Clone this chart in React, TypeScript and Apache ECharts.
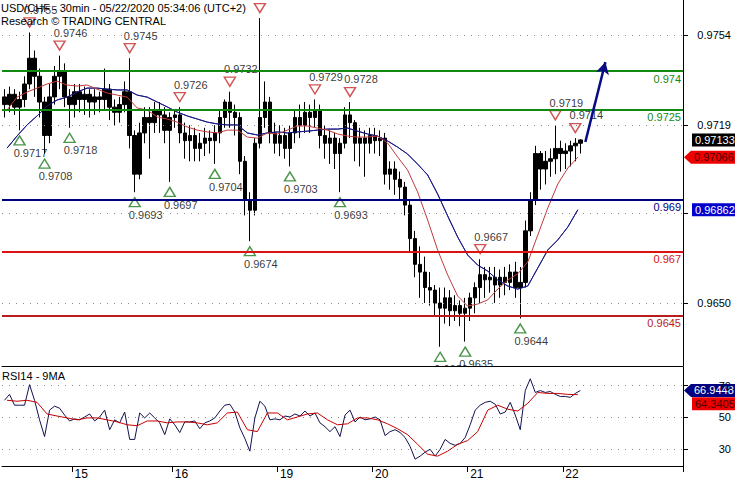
import React, { useEffect, useRef } from 'react';
import * as echarts from 'echarts';

// ---------- data ----------
const dayLabels = ['15', '16', '19', '20', '21', '22'];
const dayStartIndex = [14, 34, 55, 74, 93, 112];
const slotCount = 136; // 30-min slots visible (incl. empty future space)

const opens = [
  0.9730, 0.9727, 0.9731, 0.9726, 0.9729, 0.9735, 0.9745, 0.9738, 0.9728, 0.9715,
  0.9730, 0.9738, 0.9740, 0.9730, 0.9727, 0.9732, 0.9729, 0.9731, 0.9728, 0.9730,
  0.9729, 0.9733, 0.9726, 0.9724, 0.9727, 0.9732, 0.9715, 0.9700, 0.9716, 0.9722,
  0.9720, 0.9725, 0.9723, 0.9717, 0.9722, 0.9723, 0.9716, 0.9713, 0.9715, 0.9710,
  0.9712, 0.9714, 0.9713, 0.9716, 0.9722, 0.9728, 0.9724, 0.9722, 0.9705, 0.9690,
  0.9686, 0.9712, 0.9722, 0.9728, 0.9716, 0.9712, 0.9715, 0.9710, 0.9716, 0.9722,
  0.9719, 0.9724, 0.9722, 0.9725, 0.9715, 0.9712, 0.9714, 0.9708, 0.9712, 0.9723,
  0.9720, 0.9712, 0.9714, 0.9712, 0.9715, 0.9713, 0.9714, 0.9700, 0.9702, 0.9698,
  0.9695, 0.9688, 0.9675, 0.9665, 0.9662, 0.9656, 0.9655, 0.9650, 0.9648, 0.9652,
  0.9647, 0.9649, 0.9646, 0.9648, 0.9652, 0.9656, 0.9661, 0.9659, 0.9660, 0.9657,
  0.9660, 0.9658, 0.9662, 0.9656, 0.9658, 0.9678, 0.9690, 0.9708, 0.9702, 0.9705,
  0.9706, 0.9710, 0.9708, 0.9709, 0.9711, 0.9712,
];
const closes = [
  0.9727, 0.9731, 0.9726, 0.9729, 0.9735, 0.9745, 0.9738, 0.9728, 0.9715, 0.9730,
  0.9738, 0.9740, 0.9730, 0.9727, 0.9732, 0.9729, 0.9731, 0.9728, 0.9730, 0.9729,
  0.9733, 0.9726, 0.9724, 0.9727, 0.9732, 0.9715, 0.9700, 0.9716, 0.9722, 0.9720,
  0.9725, 0.9723, 0.9717, 0.9722, 0.9723, 0.9716, 0.9713, 0.9715, 0.9710, 0.9712,
  0.9714, 0.9713, 0.9716, 0.9722, 0.9728, 0.9724, 0.9722, 0.9705, 0.9690, 0.9686,
  0.9712, 0.9722, 0.9728, 0.9716, 0.9712, 0.9715, 0.9710, 0.9716, 0.9722, 0.9719,
  0.9724, 0.9722, 0.9725, 0.9715, 0.9712, 0.9714, 0.9708, 0.9712, 0.9723, 0.9720,
  0.9712, 0.9714, 0.9712, 0.9715, 0.9713, 0.9714, 0.9700, 0.9702, 0.9698, 0.9695,
  0.9688, 0.9675, 0.9665, 0.9662, 0.9656, 0.9655, 0.9650, 0.9648, 0.9652, 0.9647,
  0.9649, 0.9646, 0.9648, 0.9652, 0.9656, 0.9661, 0.9659, 0.9660, 0.9657, 0.9660,
  0.9658, 0.9662, 0.9656, 0.9658, 0.9678, 0.9690, 0.9708, 0.9702, 0.9705, 0.9706,
  0.9710, 0.9708, 0.9709, 0.9711, 0.9712, 0.97133,
];
const lows = [
  0.9722, 0.9724, 0.9723, 0.9717, 0.9726, 0.9733, 0.9730, 0.9722, 0.9708, 0.9712,
  0.9727, 0.9733, 0.9726, 0.9718, 0.9722, 0.9724, 0.9723, 0.9722, 0.9723, 0.9724,
  0.9725, 0.9721, 0.9719, 0.9720, 0.9724, 0.9710, 0.9693, 0.9698, 0.9712, 0.9706,
  0.9716, 0.9716, 0.9712, 0.9697, 0.9718, 0.9712, 0.9706, 0.9705, 0.9705, 0.9705,
  0.9707, 0.9708, 0.9704, 0.9712, 0.9718, 0.9718, 0.9715, 0.9700, 0.9684, 0.9674,
  0.9684, 0.9710, 0.9718, 0.9712, 0.9708, 0.9707, 0.9706, 0.9703, 0.9712, 0.9714,
  0.9716, 0.9716, 0.9718, 0.9710, 0.9706, 0.9704, 0.9702, 0.9693, 0.9710, 0.9714,
  0.9705, 0.9703, 0.9699, 0.9708, 0.9708, 0.9707, 0.9696, 0.9694, 0.9692, 0.9690,
  0.9684, 0.9670, 0.9660, 0.9652, 0.9650, 0.9649, 0.9645, 0.9633, 0.9642, 0.9641,
  0.9643, 0.9641, 0.9635, 0.9643, 0.9646, 0.9650, 0.9652, 0.9654, 0.9650, 0.9652,
  0.9653, 0.9655, 0.9652, 0.9644, 0.9656, 0.9676, 0.9688, 0.9694, 0.9696, 0.9699,
  0.9700, 0.9701, 0.9702, 0.9703, 0.9705, 0.9708,
];
const highs = [
  0.9733, 0.9734, 0.9733, 0.9732, 0.9738, 0.9755, 0.9748, 0.9741, 0.9730, 0.9735,
  0.9742, 0.9746, 0.9743, 0.9733, 0.9735, 0.9735, 0.9734, 0.9733, 0.9733, 0.9732,
  0.9741, 0.9735, 0.9729, 0.9730, 0.9736, 0.9745, 0.9717, 0.9720, 0.9726, 0.9726,
  0.9728, 0.9728, 0.9726, 0.9724, 0.9725, 0.9726, 0.9720, 0.9719, 0.9718, 0.9716,
  0.9718, 0.9717, 0.9719, 0.9725, 0.9729, 0.9732, 0.9727, 0.9724, 0.9707, 0.9693,
  0.9714, 0.97606, 0.9736, 0.9730, 0.9720, 0.9719, 0.9718, 0.9719, 0.9725, 0.9727,
  0.9728, 0.9727, 0.9729, 0.9727, 0.9719, 0.9717, 0.9716, 0.9714, 0.9726, 0.9728,
  0.9721, 0.9718, 0.9717, 0.9718, 0.9718, 0.9717, 0.9716, 0.9705, 0.9705, 0.9701,
  0.9697, 0.9690, 0.9678, 0.9672, 0.9668, 0.9662, 0.9657, 0.9656, 0.9656, 0.9655,
  0.9653, 0.9651, 0.9652, 0.9654, 0.9658, 0.9667, 0.9664, 0.9664, 0.9664, 0.9663,
  0.9664, 0.9665, 0.9666, 0.9664, 0.9682, 0.9693, 0.9711, 0.9709, 0.9709, 0.9710,
  0.9719, 0.9713, 0.9712, 0.9713, 0.9714, 0.97135,
];

// moving averages, read every second slot (hourly)
const maFast = [
  0.97249, 0.97299, 0.97319, 0.97334, 0.97350, 0.97361, 0.97346, 0.97342, 0.97346, 0.97330,
  0.97315, 0.97307, 0.97299, 0.97257, 0.97249, 0.97222, 0.97214, 0.97202, 0.97183, 0.97171,
  0.97164, 0.97160, 0.97171, 0.97171, 0.97144, 0.97140, 0.97160, 0.97156, 0.97171, 0.97187,
  0.97187, 0.97179, 0.97171, 0.97156, 0.97148, 0.97144, 0.97144, 0.97148, 0.97121, 0.97067,
  0.97016, 0.96931, 0.96822, 0.96706, 0.96609, 0.96527, 0.96488, 0.96496, 0.96512, 0.96554,
  0.96589, 0.96613, 0.96659, 0.96764, 0.96869, 0.96962, 0.97024, 0.97066,
];
const maSlow = [
  0.97101, 0.97148, 0.97191, 0.97226, 0.97264, 0.97288, 0.97299, 0.97319, 0.97334, 0.97334,
  0.97330, 0.97327, 0.97327, 0.97307, 0.97299, 0.97280, 0.97261, 0.97241, 0.97226, 0.97214,
  0.97202, 0.97195, 0.97191, 0.97191, 0.97160, 0.97152, 0.97160, 0.97164, 0.97160, 0.97164,
  0.97167, 0.97171, 0.97175, 0.97175, 0.97179, 0.97167, 0.97156, 0.97148, 0.97129, 0.97105,
  0.97078, 0.97039, 0.96997, 0.96923, 0.96838, 0.96756, 0.96686, 0.96647, 0.96624, 0.96589,
  0.96566, 0.96554, 0.96566, 0.96636, 0.96706, 0.96745, 0.96795, 0.96862,
];

const rsi = [
  60.8, 64.5, 57.7, 57.7, 57.7, 70.6, 60.8, 48.5, 38.0, 54.6,
  57.1, 55.8, 51.5, 47.8, 49.1, 48.5, 50.3, 52.2, 47.8, 50.3,
  54.6, 42.3, 48.5, 46.6, 53.4, 36.2, 36.2, 52.8, 49.7, 52.8,
  49.7, 46.6, 39.2, 49.1, 45.4, 40.5, 47.2, 47.2, 47.8, 42.9,
  46.6, 47.8, 49.7, 54.0, 57.7, 58.3, 53.4, 43.5, 36.8, 28.8,
  49.7, 60.2, 57.1, 48.5, 49.1, 48.5, 50.9, 50.3, 52.2, 50.9,
  54.0, 50.9, 52.8, 46.6, 44.2, 41.1, 44.2, 38.0, 51.5, 54.6,
  47.2, 50.3, 48.5, 49.1, 50.3, 48.5, 38.6, 41.1, 42.3, 40.5,
  37.4, 31.8, 23.8, 25.7, 28.2, 30.0, 25.7, 30.0, 36.2, 33.7,
  32.5, 33.7, 37.4, 45.4, 54.6, 57.7, 59.5, 60.2, 58.3, 52.2,
  53.4, 59.5, 51.5, 42.3, 66.9, 74.3, 65.7, 66.9, 65.7, 66.3,
  64.5, 63.2, 63.2, 62.6, 65.1, 66.9448,
];
const rsiMa = [
  60.8, 60.2, 60.8, 59.5, 52.2, 50.9, 49.7, 48.5, 49.7, 49.7,
  48.5, 47.2, 45.4, 44.8, 47.8, 47.8, 46.6, 47.2, 47.2, 46.6,
  45.4, 46.6, 52.8, 53.4, 42.3, 41.1, 52.8, 52.8, 48.5, 50.3,
  52.2, 52.8, 48.5, 45.4, 46.0, 49.7, 49.7, 48.5, 46.0, 42.9,
  39.2, 33.1, 26.9, 25.7, 28.8, 33.1, 35.5, 41.1, 54.6, 57.7,
  55.2, 54.0, 58.9, 65.7, 65.1, 65.1, 64.5, 64.3405,
];

const priceTicks = [0.9754, 0.9719, 0.9685, 0.965];
const priceTickLabels = [0.9754, 0.9719, 0.965]; // 0.9685 sits under the MA price box
const rsiTicks = [30, 50, 70];

const levelValues = [0.974, 0.9725, 0.969, 0.967, 0.9645];
const levelLabels = ['0.974', '0.9725', '0.969', '0.967', '0.9645'];
const levelColors = ['#128a12', '#128a12', '#000080', '#dd1111', '#b81c1c'];

const highMarkIdx = [5, 11, 25, 35, 45, 51, 62, 69, 95, 110, 114];
const highMarkVal = [0.9755, 0.9746, 0.9745, 0.9726, 0.9732, 0.97606, 0.9729, 0.9728, 0.9667, 0.9719, 0.9714];
const highMarkText = ['0.9755', '0.9746', '0.9745', '0.9726', '0.9732', '', '0.9729', '0.9728', '0.9667', '0.9719', '0.9714'];
const lowMarkIdx = [3, 8, 13, 26, 33, 42, 49, 57, 67, 87, 92, 103];
const lowMarkVal = [0.9717, 0.9708, 0.9718, 0.9693, 0.9697, 0.9704, 0.9674, 0.9703, 0.9693, 0.9633, 0.9635, 0.9644];
const lowMarkText = ['0.9717', '0.9708', '0.9718', '0.9693', '0.9697', '0.9704', '0.9674', '0.9703', '0.9693', '0.9630', '0.9635', '0.9644'];

const projectionIdx = [116, 120];
const projectionVal = [0.97125, 0.97435];

// ---------- chart ----------
const FONT = '"Liberation Sans", Arial, sans-serif';
const ARROW_BOX = 'path://M0,6.5L7,0L52,0L52,13L7,13Z';
const DOWN_TRI = 'path://M0,0L10,0L5,9Z';

function buildOption() {
  const slots = Array.from({ length: slotCount }, (_, i) => String(i));
  const halfSlots = Array.from({ length: slotCount / 2 }, (_, i) => String(i));
  const candles = opens.map((o, i) => [o, closes[i], lows[i], highs[i]]);
  const lastIdx = slotCount - 1;
  const lastClose = closes[closes.length - 1];
  const lastFast = maFast[maFast.length - 1];
  const lastSlow = maSlow[maSlow.length - 1];
  const lastRsi = rsi[rsi.length - 1];
  const lastRsiMa = rsiMa[rsiMa.length - 1];

  const dotted = { color: '#8c8c8c', type: [1, 6] as any, width: 1.2 };

  const levelMarkLines: any[] = [
    ...priceTicks.map((v) => ({ yAxis: v, lineStyle: dotted, label: { show: false } })),
    ...levelValues.map((v, i) => ({
      yAxis: v,
      lineStyle: { color: levelColors[i], width: 2, type: 'solid' },
      label: {
        show: true,
        position: 'insideEndBottom',
        formatter: levelLabels[i],
        color: levelColors[i],
        fontSize: 11,
        fontFamily: FONT,
        distance: 2,
      },
    })),
  ];

  const boxLabel = { show: true, position: 'insideLeft', fontSize: 11, fontFamily: FONT };

  return {
    animation: false,
    backgroundColor: '#ffffff',
    textStyle: { fontFamily: FONT },
    title: [
      {
        text: 'USD/CHF - 30min - 05/22/2020 05:34:06 (UTC+2)\nResearch © TRADING CENTRAL',
        left: 1,
        top: 1,
        padding: 0,
        textStyle: { fontSize: 11, fontWeight: 'normal', color: '#000', fontFamily: FONT, lineHeight: 13 },
      },
      {
        text: 'RSI14 - 9MA',
        left: 2,
        top: 370,
        padding: 0,
        textStyle: { fontSize: 11, fontWeight: 'normal', color: '#000', fontFamily: FONT },
      },
    ],
    grid: [
      { left: 2, right: 52, top: 0, height: 366 },
      { left: 2, right: 52, top: 367, height: 100, show: true, backgroundColor: '#ffffff', borderWidth: 0, z: 3 },
    ],
    xAxis: [
      {
        type: 'category', gridIndex: 0, data: slots, boundaryGap: true,
        axisLine: { show: true, lineStyle: { color: '#000', width: 1 } },
        axisTick: { show: false }, axisLabel: { show: false }, splitLine: { show: false },
      },
      {
        type: 'category', gridIndex: 1, data: slots, boundaryGap: true, z: 6,
        axisLine: { show: true, lineStyle: { color: '#000', width: 1 } },
        axisTick: {
          show: true, length: 6, lineStyle: { color: '#000' },
          interval: (i: number) => dayStartIndex.includes(i),
        },
        axisLabel: {
          show: true, color: '#000', fontSize: 12, fontFamily: FONT, align: 'left', margin: 2,
          interval: (i: number) => dayStartIndex.includes(i),
          formatter: (_v: string, i: number) => {
            const k = dayStartIndex.indexOf(i);
            return k >= 0 ? dayLabels[k] : '';
          },
        },
        splitLine: { show: false },
      },
      { type: 'category', gridIndex: 0, data: halfSlots, show: false, boundaryGap: true },
      { type: 'category', gridIndex: 1, data: halfSlots, show: false, boundaryGap: true },
    ],
    yAxis: [
      {
        type: 'value', gridIndex: 0, position: 'right', min: 0.962555, max: 0.97676, scale: true,
        axisLine: { show: true, lineStyle: { color: '#000', width: 1 } },
        axisTick: { show: true, length: 5, lineStyle: { color: '#000' }, customValues: priceTicks },
        axisLabel: {
          show: true, customValues: priceTickLabels, color: '#000', fontSize: 11, fontFamily: FONT,
          align: 'right', margin: 48, formatter: (v: number) => v.toFixed(4),
        },
        splitLine: { show: false },
      },
      {
        type: 'value', gridIndex: 1, position: 'right', min: 19.5, max: 81.7, z: 6,
        axisLine: { show: true, lineStyle: { color: '#000', width: 1 } },
        axisTick: { show: true, length: 5, lineStyle: { color: '#000' }, customValues: rsiTicks },
        axisLabel: {
          show: true, customValues: rsiTicks, color: '#000', fontSize: 11, fontFamily: FONT,
          align: 'right', margin: 48, formatter: (v: number) => String(v),
        },
        splitLine: { show: false },
      },
    ],
    series: [
      {
        name: 'Levels', type: 'line', xAxisIndex: 2, yAxisIndex: 0, z: 1,
        data: maSlow, symbol: 'none', silent: true,
        lineStyle: { color: '#1c1c88', width: 1 },
        markLine: { silent: true, symbol: ['none', 'none'], precision: 6, animation: false, data: levelMarkLines },
      },
      {
        name: 'USD/CHF',
        type: 'candlestick',
        xAxisIndex: 0,
        yAxisIndex: 0,
        z: 2,
        barWidth: 4,
        data: candles,
        itemStyle: { color: '#000', color0: '#000', borderColor: '#000', borderColor0: '#000', borderWidth: 1 },
        markLine: {
          silent: true, symbol: ['none', 'none'], precision: 6, animation: false,
          data: [
            [
              { coord: [projectionIdx[0], projectionVal[0]], symbol: 'none' },
              {
                coord: [projectionIdx[1], projectionVal[1]],
                symbol: 'arrow',
                symbolSize: [10, 12],
              },
            ],
          ],
          lineStyle: { color: '#0a0a85', width: 2.5, type: 'solid' },
          label: { show: false },
        },
        markPoint: {
          silent: true,
          animation: false,
          data: [
            {
              coord: [lastIdx, lastClose], symbol: 'rect', symbolSize: [44, 13], symbolOffset: [33.5, 0],
              itemStyle: { color: '#000' },
              label: { ...boxLabel, distance: 3, color: '#fff', formatter: lastClose.toFixed(5) },
            },
            {
              coord: [lastIdx, lastFast], symbol: ARROW_BOX, symbolSize: [52, 13], symbolOffset: [29.5, 0],
              itemStyle: { color: '#ee0000' },
              label: { ...boxLabel, distance: 10, color: '#4a0000', formatter: lastFast.toFixed(5) },
            },
            {
              coord: [lastIdx, lastSlow], symbol: 'rect', symbolSize: [44, 13], symbolOffset: [33.5, 0],
              itemStyle: { color: '#0000cc' },
              label: { ...boxLabel, distance: 3, color: '#fff', formatter: lastSlow.toFixed(5) },
            },
          ],
        },
      },
      {
        name: 'MA slow', type: 'line', xAxisIndex: 2, yAxisIndex: 0, z: 3,
        data: maSlow, symbol: 'none', silent: true,
        lineStyle: { color: '#1c1c88', width: 1 },
      },
      {
        name: 'MA fast', type: 'line', xAxisIndex: 2, yAxisIndex: 0, z: 3,
        data: maFast, symbol: 'none', silent: true,
        lineStyle: { color: '#c23b3b', width: 1 },
      },
      {
        name: 'Highs', type: 'scatter', xAxisIndex: 0, yAxisIndex: 0, z: 4,
        symbol: DOWN_TRI, symbolSize: [11, 9], symbolOffset: [0, -10], silent: true,
        itemStyle: { color: 'rgba(255,255,255,0)', borderColor: '#c62828', borderWidth: 1.4 },
        label: { show: true, position: 'top', distance: 2, offset: [11, 0], color: '#000', fontSize: 11, fontFamily: FONT },
        data: highMarkIdx.map((idx, k) => ({
          value: [idx, highMarkVal[k]],
          label: { formatter: highMarkText[k] },
        })),
      },
      {
        name: 'Lows', type: 'scatter', xAxisIndex: 0, yAxisIndex: 0, z: 2,
        symbol: 'triangle', symbolSize: [11, 9], symbolOffset: [0, 10], silent: true,
        itemStyle: { color: 'rgba(255,255,255,0)', borderColor: '#1e7a1e', borderWidth: 1.4 },
        label: { show: true, position: 'bottom', distance: 2, offset: [11, 0], color: '#000', fontSize: 11, fontFamily: FONT },
        data: lowMarkIdx.map((idx, k) => ({
          value: [idx, lowMarkVal[k]],
          label: { formatter: lowMarkText[k] },
        })),
      },
      {
        name: 'RSI14', type: 'line', xAxisIndex: 1, yAxisIndex: 1, z: 6,
        data: rsi, symbol: 'none', silent: true,
        lineStyle: { color: '#12124f', width: 1 },
        markLine: {
          silent: true, symbol: ['none', 'none'], animation: false,
          data: rsiTicks.map((v) => ({ yAxis: v, lineStyle: dotted, label: { show: false } })),
        },
        markPoint: {
          silent: true,
          animation: false,
          data: [
            {
              coord: [lastIdx, lastRsi], symbol: ARROW_BOX, symbolSize: [52, 13], symbolOffset: [29.5, 0],
              itemStyle: { color: '#000080' },
              label: { ...boxLabel, distance: 10, color: '#fff', formatter: lastRsi.toFixed(4) },
            },
            {
              coord: [lastIdx, lastRsiMa], symbol: 'rect', symbolSize: [44, 13], symbolOffset: [33.5, 9],
              itemStyle: { color: '#ee0000' },
              label: { ...boxLabel, distance: 3, color: '#4a0000', formatter: lastRsiMa.toFixed(4) },
            },
          ],
        },
      },
      {
        name: 'RSI MA', type: 'line', xAxisIndex: 3, yAxisIndex: 1, z: 6,
        data: rsiMa, symbol: 'none', silent: true,
        lineStyle: { color: '#c40000', width: 1 },
      },
    ],
  };
}

export default function App() {
  const ref = useRef<HTMLDivElement>(null);
  useEffect(() => {
    if (!ref.current) return;
    const chart = echarts.init(ref.current, null, { renderer: 'svg' });
    chart.setOption(buildOption() as any);
    return () => chart.dispose();
  }, []);
  return (
    <div
      ref={ref}
      style={{ position: 'absolute', left: 0, top: 0, width: 735, height: 480, background: '#fff' }}
    />
  );
}
